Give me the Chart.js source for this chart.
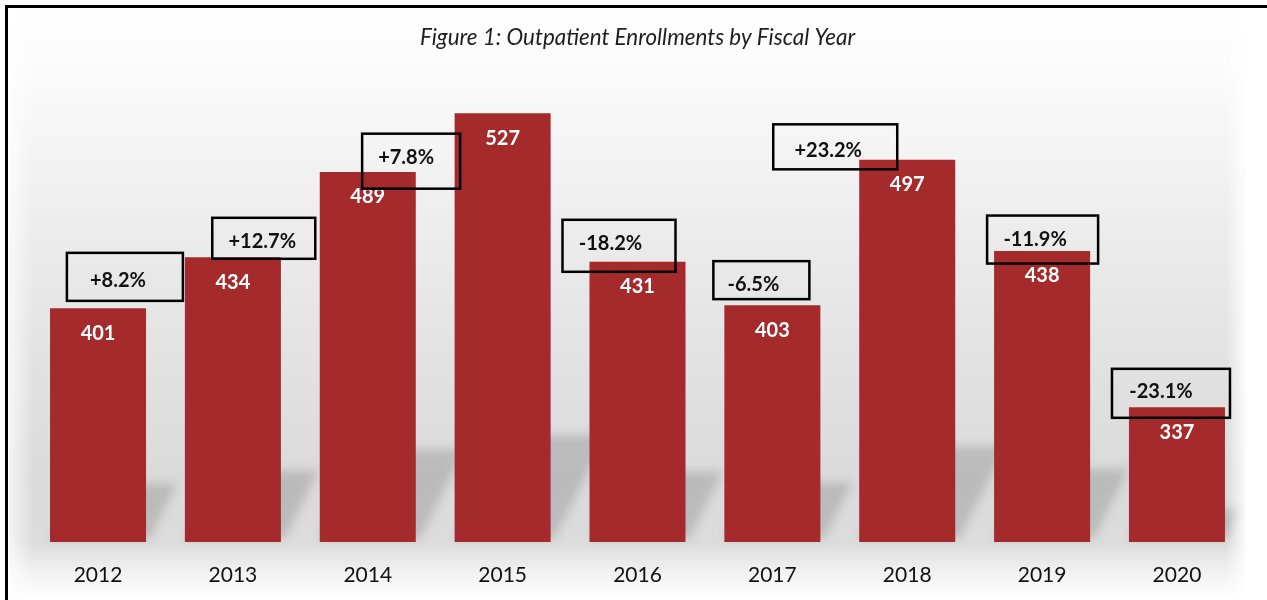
<!DOCTYPE html>
<html>
<head>
<meta charset="utf-8">
<title>Outpatient Enrollments by Fiscal Year</title>
<script src="https://cdn.jsdelivr.net/npm/chart.js@4.4.1/dist/chart.umd.min.js"></script>
<style>
  html, body { margin: 0; padding: 0; background: #ffffff; }
  #wrap { width: 1267px; height: 600px; position: relative; }
</style>
</head>
<body>
<div id="wrap"><canvas id="chart" width="1267" height="600"></canvas></div>
<script>
// Fiscal years and enrollment counts
const fiscalYears = ['2012', '2013', '2014', '2015', '2016', '2017', '2018', '2019', '2020'];
const enrollments = [401, 434, 489, 527, 431, 403, 497, 438, 337];

// Year-over-year change callouts (year the change belongs to, and its label)
const changeYears = ['2013', '2014', '2015', '2016', '2017', '2018', '2019', '2020'];
const changeLabels = ['+8.2%', '+12.7%', '+7.8%', '-18.2%', '-6.5%', '+23.2%', '-11.9%', '-23.1%'];

// Callout box placement, relative to the bar of its year (px offsets from bar centre / bar top)
const calloutLayout = [
  { dx: -108, dy: 19.7, w: 116, h: 48, tx: -7, ty: 4 },
  { dx: -104, dy: 66.3, w: 103, h: 41, tx: -1.5, ty: 3.5 },
  { dx: -91.5, dy: 48, w: 98, h: 55, tx: -5, ty: -3.5 },
  { dx: -18.5, dy: -16, w: 113, h: 52, tx: -8.5, ty: -2 },
  { dx: -11, dy: -25, w: 96, h: 38, tx: -8, ty: 4 },
  { dx: -72, dy: -12.8, w: 124, h: 45, tx: -7, ty: 3.5 },
  { dx: 0.5, dy: -11.4, w: 111, h: 48, tx: -7.5, ty: 0 },
  { dx: -6, dy: -14, w: 118, h: 49, tx: -10, ty: -1.5 }
];

const BAR_COLOR = '#a52a2c';
const BAR_FRACTION = 0.712;
const FONT = 'Lato, "Open Sans", "Liberation Sans", sans-serif';

// Backdrop: soft grey gradient, floor shadows and the frame lines
const backdropPlugin = {
  id: 'backdrop',
  beforeDraw(chart) {
    const ctx = chart.ctx;
    const W = chart.width, H = chart.height;
    ctx.save();
    ctx.fillStyle = '#ffffff';
    ctx.fillRect(0, 0, W, H);

    const g = ctx.createLinearGradient(0, 0, 0, H);
    g.addColorStop(0.00, '#ffffff');
    g.addColorStop(0.12, '#fbfbfb');
    g.addColorStop(0.40, '#ebebeb');
    g.addColorStop(0.62, '#e1e1e1');
    g.addColorStop(0.80, '#dadada');
    g.addColorStop(0.905, '#dcdcdc');
    g.addColorStop(0.955, '#f2f2f2');
    g.addColorStop(1.00, '#ffffff');
    ctx.fillStyle = g;
    ctx.fillRect(9, 9, 1237, H - 9);

    // floor shadows cast by each bar, leaning up and to the right
    const xs = chart.scales.x, ys = chart.scales.y;
    const base = ys.getPixelForValue(ys.min);
    const w = (xs.right - xs.left) / fiscalYears.length * BAR_FRACTION;
    ctx.save();
    ctx.filter = 'blur(5px)';
    ctx.fillStyle = 'rgba(60,60,60,0.2)';
    enrollments.forEach((v, i) => {
      const x = xs.getPixelForValue(i);
      const top = ys.getPixelForValue(v);
      const h = 0.25 * (base - top);
      const dx = h / 1.9;
      const l = x - w / 2, r = x + w / 2;
      ctx.beginPath();
      ctx.moveTo(l, base - 4);
      ctx.lineTo(r + 4, base - 4);
      ctx.lineTo(r + dx, base - h);
      ctx.lineTo(l + dx, base - h);
      ctx.closePath();
      ctx.fill();
    });
    ctx.restore();

    // fade the backdrop out on the right edge, lighter strip on the left
    const gr = ctx.createLinearGradient(1226, 0, 1248, 0);
    gr.addColorStop(0, 'rgba(255,255,255,0)');
    gr.addColorStop(1, 'rgba(255,255,255,1)');
    ctx.fillStyle = gr;
    ctx.fillRect(1226, 9, 22, H - 9);
    const gl = ctx.createLinearGradient(9, 0, 34, 0);
    gl.addColorStop(0, 'rgba(255,255,255,0.7)');
    gl.addColorStop(1, 'rgba(255,255,255,0)');
    ctx.fillStyle = gl;
    ctx.fillRect(9, 9, 25, H - 9);

    // frame
    ctx.fillStyle = '#000000';
    ctx.fillRect(5, 5, W - 5, 3);
    ctx.fillRect(5, 5, 3, H - 5);
    ctx.restore();
  }
};

// Value labels inside the bars and the change callouts
const labelPlugin = {
  id: 'labels',
  afterDatasetsDraw(chart) {
    const ctx = chart.ctx;
    const meta = chart.getDatasetMeta(0);
    ctx.save();
    ctx.textAlign = 'center';
    ctx.textBaseline = 'middle';
    ctx.font = 'bold 20px ' + FONT;
    ctx.fillStyle = '#ffffff';
    meta.data.forEach((bar, i) => {
      ctx.fillText(String(enrollments[i]), bar.x, bar.y + 25);
    });

    changeYears.forEach((yr, k) => {
      const bar = meta.data[fiscalYears.indexOf(yr)];
      const L = calloutLayout[k];
      const cx = bar.x + L.dx, cy = bar.y + L.dy;
      ctx.lineWidth = 2.5;
      ctx.strokeStyle = '#000000';
      ctx.strokeRect(cx - L.w / 2, cy - L.h / 2, L.w, L.h);
      ctx.fillStyle = '#111111';
      ctx.fillText(changeLabels[k], cx + L.tx, cy + L.ty);
    });
    ctx.restore();
  }
};

new Chart(document.getElementById('chart'), {
  type: 'bar',
  data: {
    labels: fiscalYears,
    datasets: [{
      data: enrollments,
      backgroundColor: BAR_COLOR,
      borderWidth: 0,
      categoryPercentage: 1.0,
      barPercentage: BAR_FRACTION
    }]
  },
  options: {
    responsive: false,
    animation: false,
    devicePixelRatio: 1,
    layout: { padding: { left: 30.6, right: 22.6, top: 0, bottom: 0 } },
    plugins: {
      legend: { display: false },
      tooltip: { enabled: false },
      title: {
        display: true,
        text: 'Figure 1: Outpatient Enrollments by Fiscal Year',
        color: '#1e1e1e',
        font: { family: FONT, size: 22.4, style: 'italic', weight: 'normal', lineHeight: 1.2 },
        padding: { top: 24.5, bottom: 26.2 }
      }
    },
    scales: {
      x: {
        grid: { display: false, drawTicks: false },
        border: { display: false },
        ticks: {
          color: '#111111',
          font: { family: FONT, size: 21, lineHeight: 1.2 },
          padding: 21
        },
        afterFit(scale) { scale.height = 58; }
      },
      y: {
        display: false,
        min: 250,
        max: 550
      }
    }
  },
  plugins: [backdropPlugin, labelPlugin]
});
</script>
</body>
</html>
